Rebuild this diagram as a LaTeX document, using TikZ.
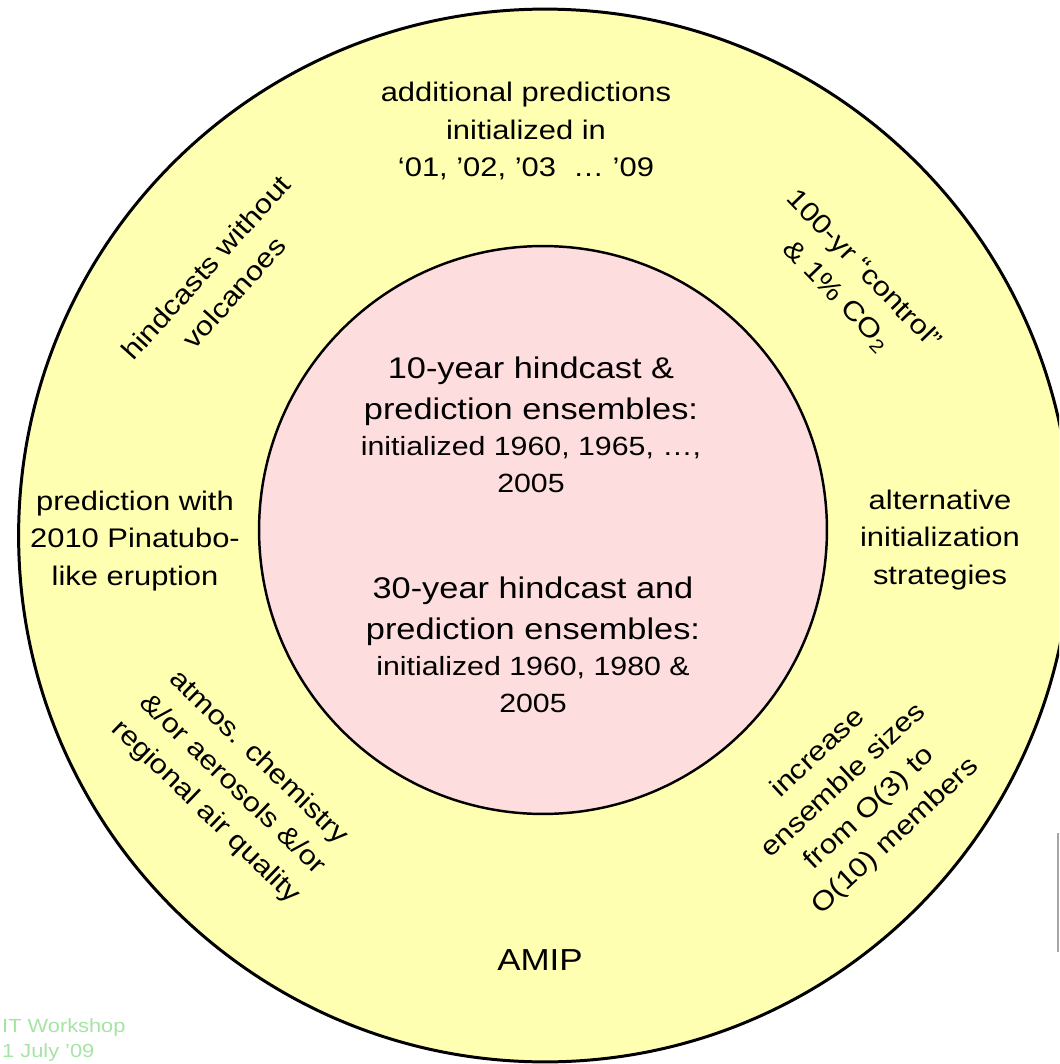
\documentclass[tikz,border=0pt]{standalone}
\usepackage{fontspec}
\setmainfont[FakeStretch=1.15]{Liberation Sans}
\definecolor{ringyellow}{RGB}{255,255,178}
\definecolor{corepink}{RGB}{253,221,221}
\definecolor{footgreen}{RGB}{165,228,165}
\begin{document}
\begin{tikzpicture}[x=0.02cm,y=-0.02cm,
		ringtext/.style={align=center,font=\fontsize{15.3}{21.5}\selectfont},
		coretext/.style={align=center,font=\fontsize{15}{21}\selectfont}]
		\useasboundingbox (0,0) rectangle (1059,1064);
		\clip (0,0) rectangle (1059,1064);
		\filldraw[fill=ringyellow,line width=1.7pt] (545,535.5) circle[radius=10.53cm];
		\filldraw[fill=corepink,line width=1.4pt] (543,530) circle[radius=5.68cm];
		\node[coretext] (ten) at (531,425) {{\fontsize{17}{23}\selectfont 10-year hindcast \&}\\[2pt]{\fontsize{17}{23}\selectfont prediction ensembles:}\\initialized 1960, 1965, …,\\2005};
		\node[coretext] (thirty) at (533,645) {{\fontsize{17}{23}\selectfont 30-year hindcast and}\\[2pt]{\fontsize{17}{23}\selectfont prediction ensembles:}\\initialized 1960, 1980 \&\\2005};
		\node[ringtext] (extra) at (526,131) {additional predictions\\initialized in\\‘01, ’02, ’03 \ … ’09};
		\node[ringtext,rotate=-46] (control) at (850,283) {100-yr “control”\\\& 1\% CO\textsubscript{2}};
		\node[ringtext,rotate=48] (novolc) at (220,280) {hindcasts without\\volcanoes};
		\node[ringtext] (pinatubo) at (135,541) {prediction with\\2010 Pinatubo-\\like eruption};
		\node[ringtext] (altinit) at (940,540) {alternative\\initialization\\strategies};
		\node[ringtext,rotate=-44] (chem) at (232,785) {atmos. chemistry\\\&/or aerosols \&/or\\regional air quality};
		\node[ringtext,rotate=43] (members) at (857,795) {increase\\ensemble sizes\\from O(3) to\\O(10) members};
		\node[font=\fontsize{17.3}{21}\selectfont] (amip) at (540,960) {AMIP};
		\node[anchor=west,align=left,text=footgreen,font=\fontsize{10.8}{14.2}\selectfont] (foot) at (-4,1040) {IT Workshop\\1 July ’09};
		\draw[gray!70,line width=0.8pt] (1058,833) -- (1058,952);
\end{tikzpicture}
\end{document}
